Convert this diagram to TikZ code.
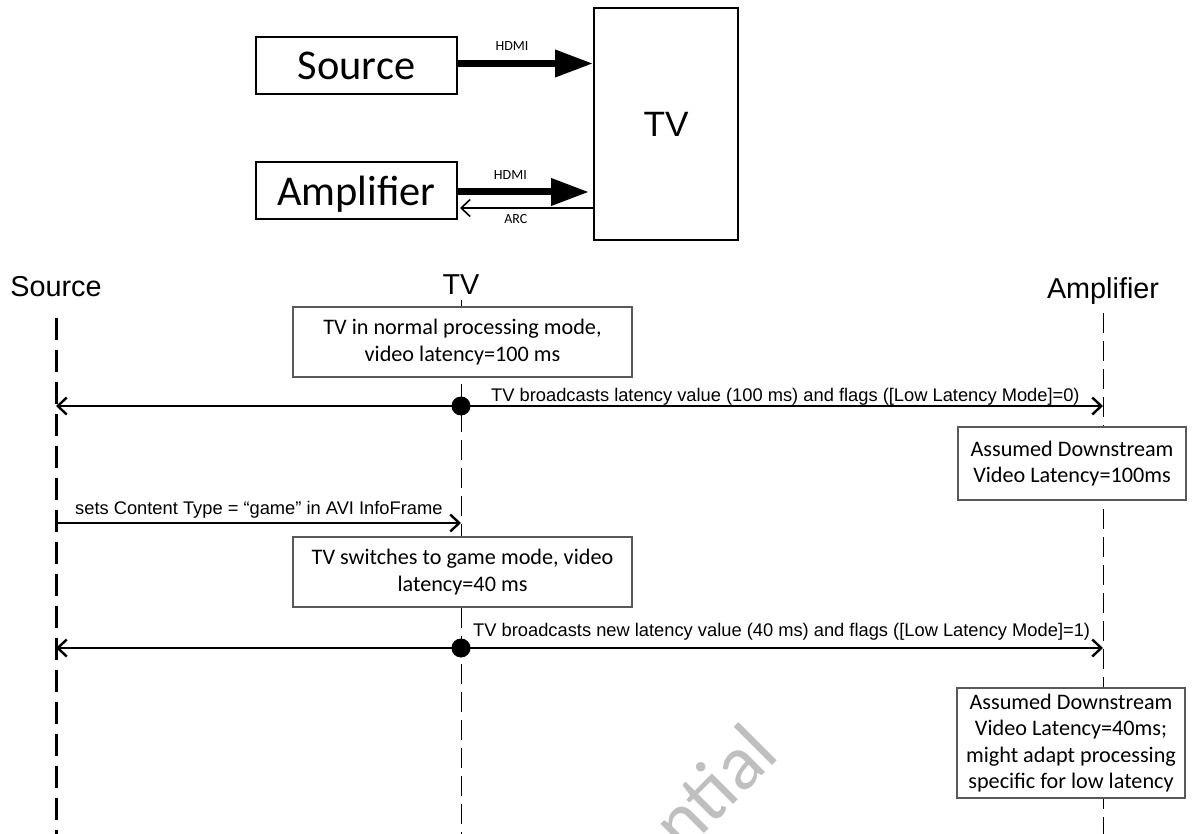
\documentclass[tikz,border=0pt]{standalone}
\usepackage{fontspec}
\setmainfont{Carlito}
\newfontfamily\arialfont{Liberation Sans}
\usetikzlibrary{arrows.meta,positioning}

\tikzset{
  blockbox/.style={draw, line width=1pt, inner sep=0pt, text depth=0pt, font=\fontsize{21.2}{24}\selectfont},
  notebox/.style={draw=black!65, line width=0.6pt, fill=white, inner sep=0pt, align=center, font=\fontsize{11.1}{13.3}\selectfont},
  headlabel/.style={anchor=base, inner sep=0pt, font=\arialfont\fontsize{14.4}{16}\selectfont},
  msglabel/.style={anchor=base west, inner sep=0pt, font=\arialfont\fontsize{9.15}{11}\selectfont},
  smalllabel/.style={inner sep=0pt, font=\fontsize{7}{8}\selectfont},
  thinlife/.style={line width=0.5pt, dash pattern=on 10pt off 4pt},
  thicklife/.style={line width=1.5pt, dash pattern=on 11pt off 5pt},
  hdmiarrow/.style={line width=3.5pt, -{Triangle[length=19pt,width=13pt]}},
  arcarrow/.style={line width=0.8pt, -{Straight Barb[length=4.5pt,width=8.5pt]}},
  msgarrow/.style={line width=1.2pt, -{Straight Barb[length=4.5pt,width=8.5pt]}},
  dotnode/.style={circle, fill=black, inner sep=0pt, minimum size=9.5pt},
}

\begin{document}
\begin{tikzpicture}[x=0.5pt, y=-0.5pt]
\useasboundingbox (0,0) rectangle (1204,834);
\begin{scope}[scale=1]

%\draw[help lines, step=50] (0,0) grid (1204,834);
\node[rotate=45, anchor=base east, text=black!25, inner sep=0pt, font=\fontsize{39}{44}\selectfont] (mark) at (782,756) {Confidential};

% connection diagram
\node[blockbox, minimum width=100.5pt, minimum height=28.5pt] (srcbox) at (356.5,65.5) {Source};
\node[blockbox, minimum width=100.5pt, minimum height=28.5pt] (ampbox) at (356.5,190.5) {Amplifier};
\node[blockbox, minimum width=72pt, minimum height=116pt, font=\arialfont\fontsize{17.6}{20}\selectfont] (tvbox) at (666,124) {TV};

\draw[hdmiarrow] ([yshift=1pt]srcbox.east) -- ([yshift=1pt]srcbox.east -| tvbox.west) node[smalllabel, pos=0.4, above=4.5pt] {HDMI};
\draw[hdmiarrow] ([yshift=-0.75pt]ampbox.east) -- ([yshift=-0.75pt, xshift=-2pt]ampbox.east -| tvbox.west) node[smalllabel, pos=0.4, above=4.5pt] {HDMI};
\draw[arcarrow] ([yshift=-8.75pt]ampbox.east -| tvbox.west) -- ([yshift=-8.75pt, xshift=1pt]ampbox.east) node[smalllabel, pos=0.58, below=3pt] {ARC};

% sequence
\coordinate (bottom) at (0,834);
\node[headlabel] (srchead) at (56,296) {Source};
\node[headlabel] (tvhead) at (461,294) {TV};
\node[headlabel] (amphead) at (1103,299) {Amplifier};

\draw[thicklife] ([yshift=-10.5pt]srchead.south) -- (srchead.south |- bottom);
\draw[thinlife] ([yshift=-3pt]tvhead.south) -- (tvhead.south |- bottom);
\draw[thinlife] ([yshift=-4pt]amphead.south) -- (amphead.south |- bottom);

\node[notebox, minimum width=169.5pt, minimum height=35pt] (tvnote1) at (462.5,342) {TV in normal processing mode,\\video latency=100 ms};
\node[notebox, minimum width=114pt, minimum height=36.5pt] (ampnote1) at (1072,463.5) {Assumed Downstream\\Video Latency=100ms};
\node[notebox, minimum width=169.5pt, minimum height=35pt] (tvnote2) at (462.5,572) {TV switches to game mode, video\\latency=40 ms};
\node[notebox, minimum width=114pt, minimum height=55pt] (ampnote2) at (1071,743) {Assumed Downstream\\Video Latency=40ms;\\might adapt processing\\specific for low latency};

\node[dotnode] (dot1) at (461,406) {};
\draw[msgarrow] (dot1.center) -- (dot1 -| srchead);
\draw[msgarrow] (dot1.center) -- (dot1 -| amphead) node[msglabel, pos=0, xshift=14.5pt, yshift=2.5pt] {TV broadcasts latency value (100 ms) and flags ([Low Latency Mode]=0)};

\coordinate (gamemsg) at (56,523);
\draw[msgarrow] (gamemsg) -- (gamemsg -| tvhead) node[msglabel, pos=0, xshift=9pt, yshift=4.5pt] {sets Content Type = “game” in AVI InfoFrame};

\node[dotnode] (dot2) at (461,648) {};
\draw[msgarrow] (dot2.center) -- (dot2 -| srchead);
\draw[msgarrow] (dot2.center) -- (dot2 -| amphead) node[msglabel, pos=0, xshift=5.5pt, yshift=6pt] {TV broadcasts new latency value (40 ms) and flags ([Low Latency Mode]=1)};

\end{scope}
\end{tikzpicture}
\end{document}
